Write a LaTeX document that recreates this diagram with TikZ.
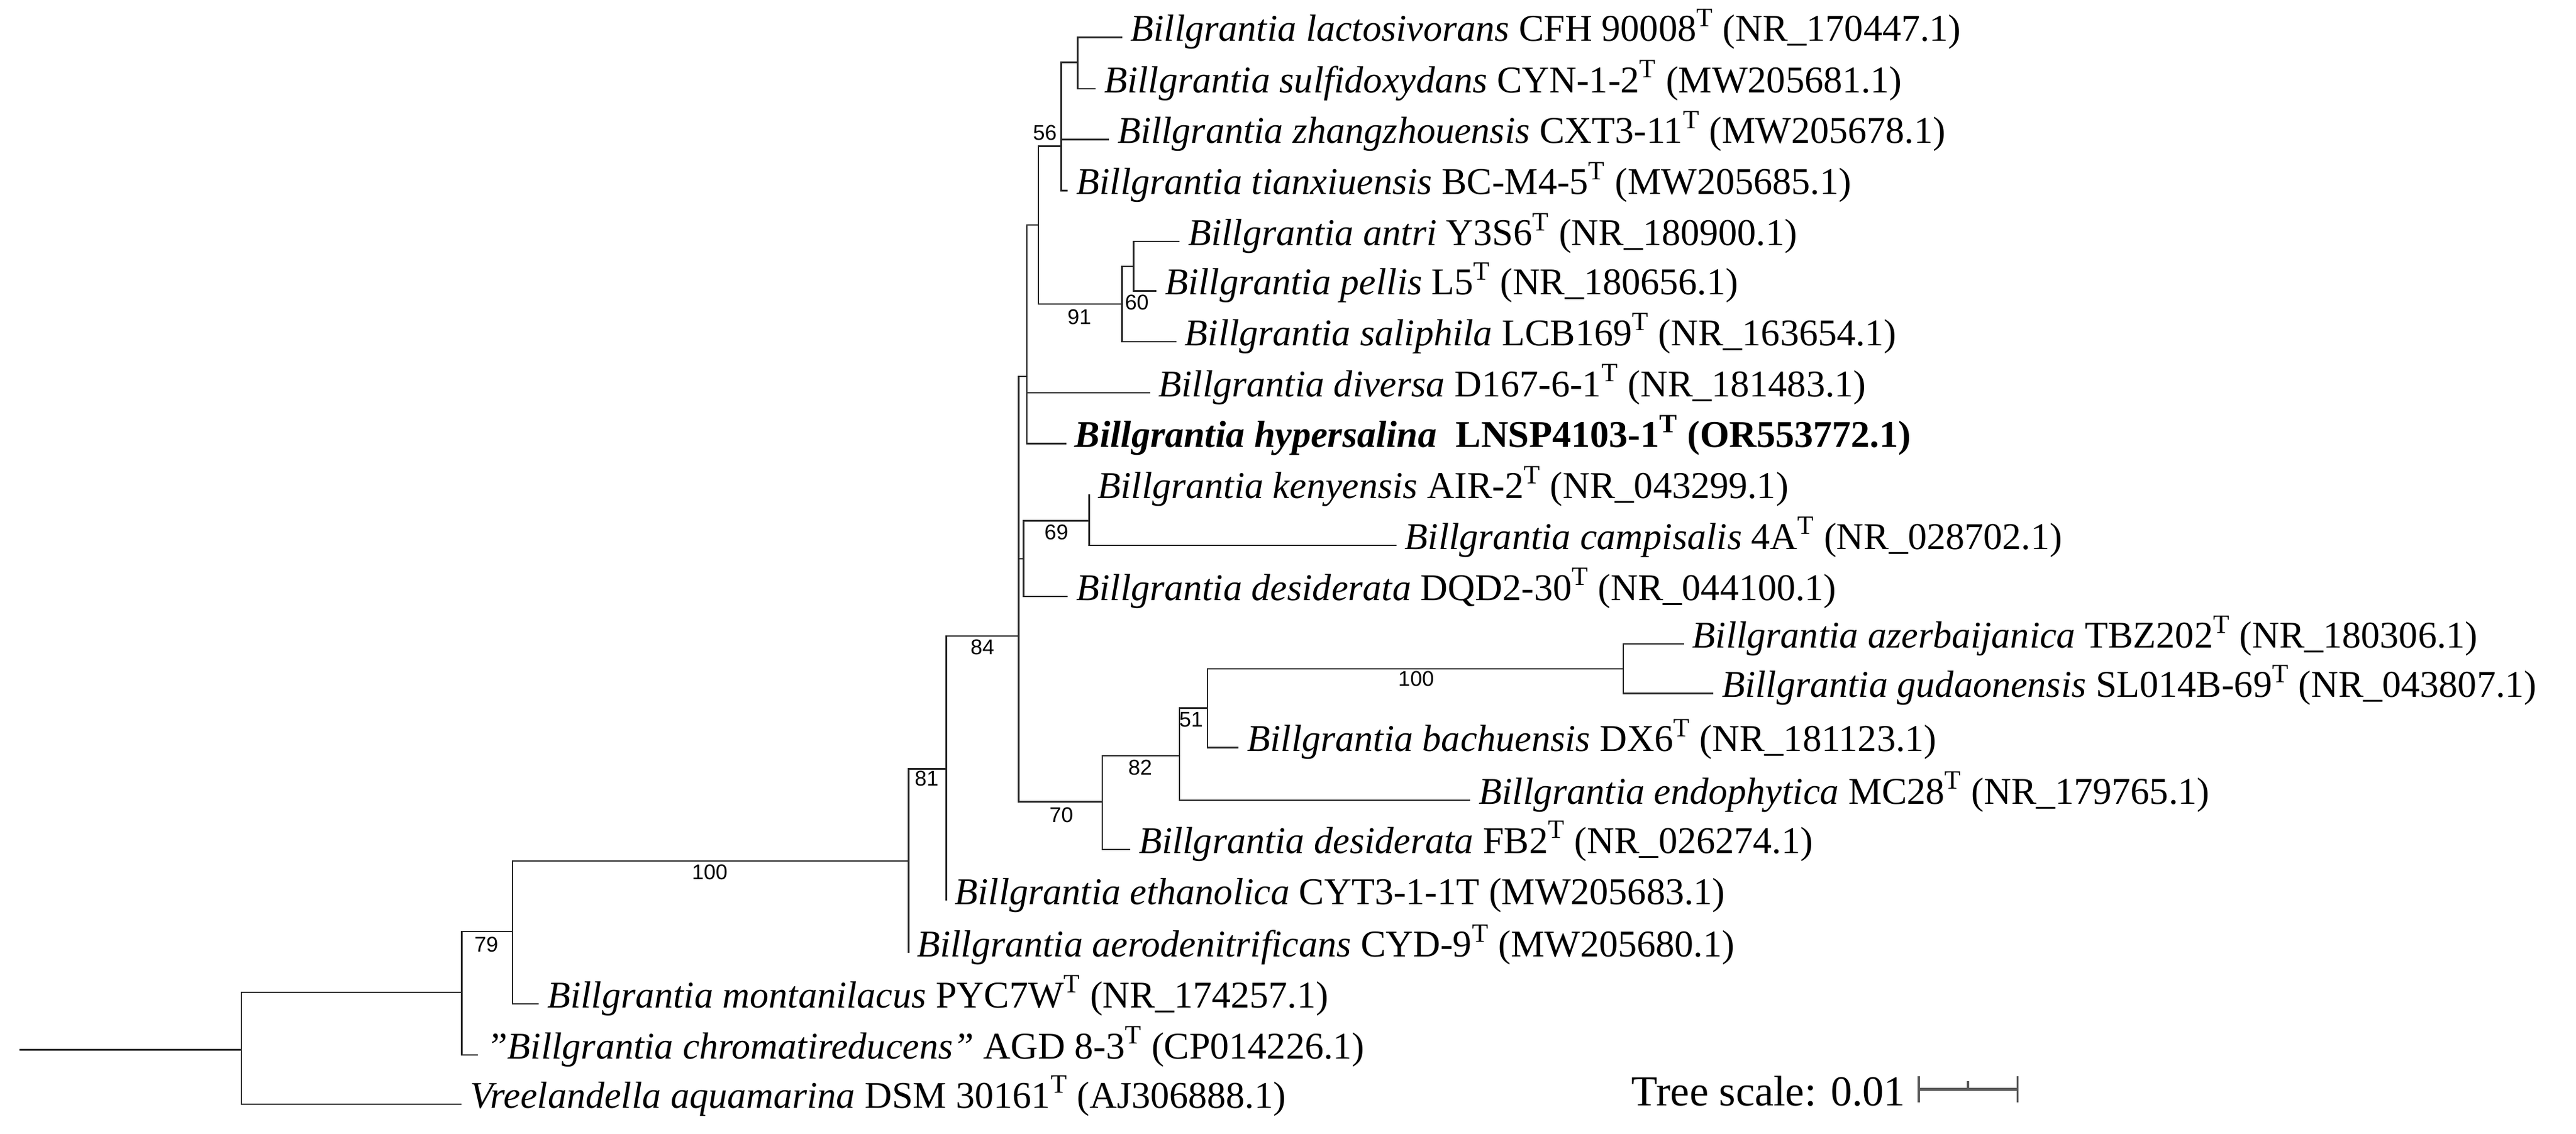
\documentclass[tikz,border=0pt]{standalone}
\usepackage{fontspec}
\setmainfont{Liberation Serif}
\newfontfamily\bsfont{Liberation Sans}
\begin{document}
\begin{tikzpicture}[x=1pt,y=-1pt,
  br/.style={draw=black!85, line width=0.9pt},
  leaf/.style={anchor=mid west, inner xsep=5pt, inner ysep=0pt, font=\fontsize{23}{24}\selectfont},
  bs/.style={inner sep=0pt, font=\bsfont\fontsize{13}{14}\selectfont}]
\useasboundingbox (0,0) rectangle (1568,690);
\newcommand{\Bg}[1]{\textit{Billgrantia #1}}
% leaves
\node[leaf] (l1) at (683,22.7) {\Bg{lactosivorans} CFH 90008\textsuperscript{T} (NR\_170447.1)};
\node[leaf] (l2) at (667,54) {\Bg{sulfidoxydans} CYN-1-2\textsuperscript{T} (MW205681.1)};
\node[leaf] (l3) at (675,85) {\Bg{zhangzhouensis} CXT3-11\textsuperscript{T} (MW205678.1)};
\node[leaf] (l4) at (650,116) {\Bg{tianxiuensis} BC-M4-5\textsuperscript{T} (MW205685.1)};
\node[leaf] (l5) at (718,147) {\Bg{antri} Y3S6\textsuperscript{T} (NR\_180900.1)};
\node[leaf] (l6) at (704,177) {\Bg{pellis} L5\textsuperscript{T} (NR\_180656.1)};
\node[leaf] (l7) at (716,208) {\Bg{saliphila} LCB169\textsuperscript{T} (NR\_163654.1)};
\node[leaf] (l8) at (700,239) {\Bg{diversa} D167-6-1\textsuperscript{T} (NR\_181483.1)};
\node[leaf] (l9) at (649,270) {\textbf{\textit{Billgrantia hypersalina}\ \ LNSP4103-1\textsuperscript{T} (OR553772.1)}};
\node[leaf] (l10) at (663,301) {\Bg{kenyensis} AIR-2\textsuperscript{T} (NR\_043299.1)};
\node[leaf] (l11) at (850,332) {\Bg{campisalis} 4A\textsuperscript{T} (NR\_028702.1)};
\node[leaf] (l12) at (650,363) {\Bg{desiderata} DQD2-30\textsuperscript{T} (NR\_044100.1)};
\node[leaf] (l13) at (1025,392) {\Bg{azerbaijanica} TBZ202\textsuperscript{T} (NR\_180306.1)};
\node[leaf] (l14) at (1043,422) {\Bg{gudaonensis} SL014B-69\textsuperscript{T} (NR\_043807.1)};
\node[leaf] (l15) at (754,455) {\Bg{bachuensis} DX6\textsuperscript{T} (NR\_181123.1)};
\node[leaf] (l16) at (895,487) {\Bg{endophytica} MC28\textsuperscript{T} (NR\_179765.1)};
\node[leaf] (l17) at (688,517) {\Bg{desiderata} FB2\textsuperscript{T} (NR\_026274.1)};
\node[leaf] (l18) at (576,548) {\Bg{ethanolica} CYT3-1-1T (MW205683.1)};
\node[leaf] (l19) at (553,580) {\Bg{aerodenitrificans} CYD-9\textsuperscript{T} (MW205680.1)};
\node[leaf] (l20) at (328,611) {\Bg{montanilacus} PYC7W\textsuperscript{T} (NR\_174257.1)};
\node[leaf] (l21) at (291,642) {\textit{"Billgrantia chromatireducens"} AGD 8-3\textsuperscript{T} (CP014226.1)};
\node[leaf] (l22) at (281,672) {\textit{Vreelandella aquamarina} DSM 30161\textsuperscript{T} (AJ306888.1)};
% internal nodes
\coordinate (n12) at (656,38);
\coordinate (n56) at (646,89);
\coordinate (nsub) at (690,162);
\coordinate (n60) at (683,185);
\coordinate (nA) at (632,137);
\coordinate (nB) at (625,229);
\coordinate (n69) at (663,317);
\coordinate (nC2) at (623,340);
\coordinate (nAG) at (988,407);
\coordinate (nI) at (735,431);
\coordinate (n82) at (718,460);
\coordinate (n70) at (671,488);
\coordinate (nC) at (620,387);
\coordinate (n84) at (576,468);
\coordinate (n81) at (553,524);
\coordinate (nM) at (312,567);
\coordinate (n79) at (281,604);
\coordinate (nR) at (147,639);
\coordinate (r0) at (12,639);
% branches
\draw[br] (n12) |- (l1.mid west) (n12) |- (l2.mid west);
\draw[br] (n56) |- (n12) (n56) |- (l3.mid west) (n56) |- (l4.mid west);
\draw[br] (nsub) |- (l5.mid west) (nsub) |- (l6.mid west);
\draw[br] (n60) |- (nsub) (n60) |- (l7.mid west);
\draw[br] (nA) |- (n56) (nA) |- (n60);
\draw[br] (nB) |- (nA) (nB) |- (l8.mid west) (nB) |- (l9.mid west);
\draw[br] (n69) |- (l10.mid west) (n69) |- (l11.mid west);
\draw[br] (nC2) |- (n69) (nC2) |- (l12.mid west);
\draw[br] (nAG) |- (l13.mid west) (nAG) |- (l14.mid west);
\draw[br] (nI) |- (nAG) (nI) |- (l15.mid west);
\draw[br] (n82) |- (nI) (n82) |- (l16.mid west);
\draw[br] (n70) |- (n82) (n70) |- (l17.mid west);
\draw[br] (nC) |- (nB) (nC) |- (nC2) (nC) |- (n70);
\draw[br] (n84) |- (nC) (n84) |- (l18.mid west);
\draw[br] (n81) |- (n84) (n81) |- (l19.mid west);
\draw[br] (nM) |- (n81) (nM) |- (l20.mid west);
\draw[br] (n79) |- (nM) (n79) |- (l21.mid west);
\draw[br] (nR) |- (n79) (nR) |- (l22.mid west);
\draw[br] (r0) -- (nR);
% bootstrap
\node[bs] (b56) at (636,81) {56};
\node[bs] (b91) at (657,193) {91};
\node[bs] (b60) at (692,184) {60};
\node[bs] (b69) at (643,324) {69};
\node[bs] (b84) at (598,394) {84};
\node[bs] (b70) at (646,496) {70};
\node[bs] (b82) at (694,467) {82};
\node[bs] (b51) at (725,438) {51};
\node[bs] (b100a) at (862,413) {100};
\node[bs] (b81) at (564,474) {81};
\node[bs] (b100b) at (432,531) {100};
\node[bs] (b79) at (296,575) {79};
% scale bar
\node[anchor=base east, inner sep=0pt, font=\fontsize{26}{26}\selectfont] (ts) at (1160,673) {Tree scale: 0.01};
\coordinate (s0) at (1168,663);
\coordinate (s1) at (1228,663);
\coordinate (sm) at (1198,663);
\draw[draw=black!65, line width=2pt] (s0) -- (s1);
\draw[draw=black!65, line width=1.3pt] ([yshift=-8]s0) -- ([yshift=8]s0) ([yshift=-8]s1) -- ([yshift=8]s1) (sm) -- ([yshift=5]sm);
\end{tikzpicture}
\end{document}
